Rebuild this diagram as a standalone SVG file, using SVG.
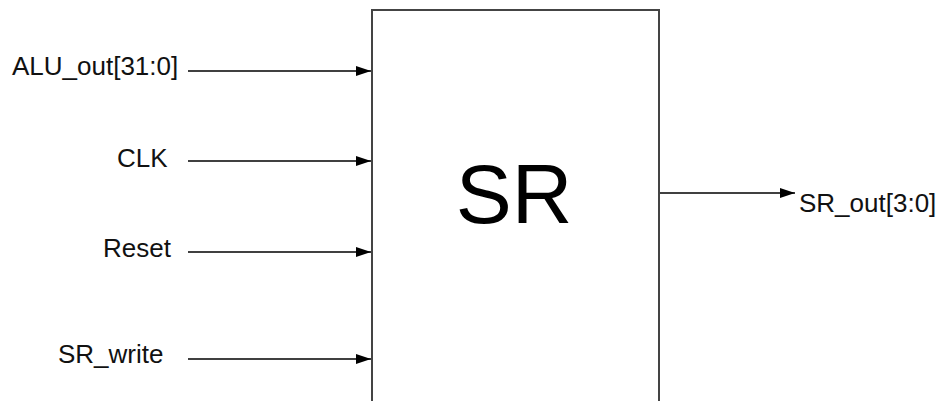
<svg xmlns="http://www.w3.org/2000/svg" width="941" height="401" viewBox="0 0 941 401">
  <style>
    .lbl { font-family: "Liberation Sans", Arial, sans-serif; font-size: 26px; fill: #111; }
    .big { font-family: "Liberation Sans", Arial, sans-serif; font-size: 84px; fill: #000; }
    .wire { stroke: #000; stroke-width: 1.6; fill: none; }
    .block { fill: #fff; stroke: #444; stroke-width: 2; }
  </style>
  <defs>
    <marker id="arrow" viewBox="0 0 15 10" refX="15" refY="5" markerWidth="15" markerHeight="10" markerUnits="userSpaceOnUse" orient="auto">
      <path d="M0,0 L15,5 L0,10 z" fill="#000"/>
    </marker>
  </defs>
  <rect width="941" height="401" fill="#fff"/>

  <!-- register block -->
  <g id="sr-block">
    <rect class="block" x="372" y="10" width="287" height="400"/>
    <text class="big" x="514" y="223" text-anchor="middle">SR</text>
  </g>

  <!-- port labels -->
  <g id="in-alu-out"><text class="lbl" x="12" y="75">ALU_out[31:0]</text></g>
  <g id="in-clk"><text class="lbl" x="117" y="167">CLK</text></g>
  <g id="in-reset"><text class="lbl" x="103" y="257">Reset</text></g>
  <g id="in-sr-write"><text class="lbl" x="58" y="363">SR_write</text></g>
  <g id="out-sr-out"><text class="lbl" x="799" y="212">SR_out[3:0]</text></g>

  <!-- connectors -->
  <g id="connectors">
    <line class="wire" x1="188" y1="71" x2="371" y2="71" marker-end="url(#arrow)"/>
    <line class="wire" x1="188" y1="161" x2="371" y2="161" marker-end="url(#arrow)"/>
    <line class="wire" x1="188" y1="252" x2="371" y2="252" marker-end="url(#arrow)"/>
    <line class="wire" x1="188" y1="359" x2="371" y2="359" marker-end="url(#arrow)"/>
    <line class="wire" x1="660" y1="193" x2="795" y2="193" marker-end="url(#arrow)"/>
  </g>
</svg>
